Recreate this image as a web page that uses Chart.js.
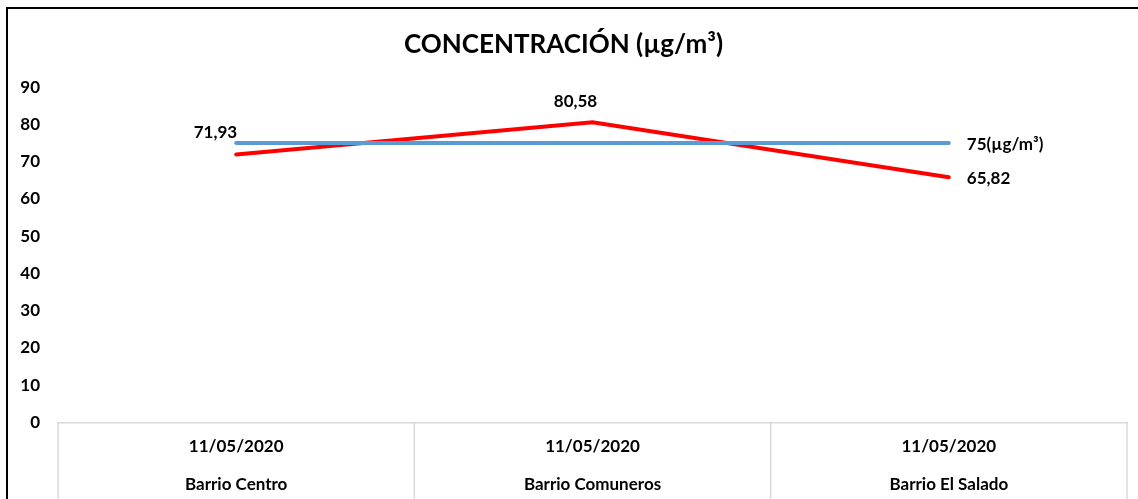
<!DOCTYPE html>
<html>
<head>
<meta charset="utf-8">
<script src="https://cdn.jsdelivr.net/npm/chart.js@4"></script>
<style>
  html, body { margin: 0; padding: 0; overflow: hidden; background: #fff; }
  #frame { position: absolute; left: 6px; top: 7px; width: 1200px; height: 600px;
           border-left: 2px solid #000; border-top: 2px solid #000; }
  #wrap { position: absolute; left: 0; top: 0; width: 1138px; height: 509px; }
</style>
</head>
<body>
<div id="frame"></div>
<div id="wrap"><canvas id="chart"></canvas></div>
<script>
const fechas = ['11/05/2020', '11/05/2020', '11/05/2020']
const barrios = ['Barrio Centro', 'Barrio Comuneros', 'Barrio El Salado']
const concentracion = [71.93, 80.58, 65.82]
const norma = [75, 75, 75]
const yTicks = [0, 10, 20, 30, 40, 50, 60, 70, 80, 90]

const fontFamily = 'Lato, "Open Sans", sans-serif'

// labels drawn next to the points, like excel data labels
const pointLabels = {
    id: 'pointLabels',
    afterDatasetsDraw(chart) {
        const c = chart.ctx
        c.save()
        c.font = 'bold 17px ' + fontFamily
        c.fillStyle = '#000'
        c.textBaseline = 'middle'

        const red = chart.getDatasetMeta(1).data
        const spots = [
            { dx: 1, dy: -22, align: 'right' },
            { dx: -17, dy: -21, align: 'center' },
            { dx: 18, dy: 1, align: 'left' }
        ]
        red.forEach((pt, i) => {
            c.textAlign = spots[i].align
            c.fillText(concentracion[i].toFixed(2).replace('.', ','), pt.x + spots[i].dx, pt.y + spots[i].dy)
        })

        const blue = chart.getDatasetMeta(0).data
        const last = blue[blue.length - 1]
        c.textAlign = 'left'
        c.fillText(norma[norma.length - 1] + '(µg/m³)', last.x + 18, last.y + 1)
        c.restore()
    }
}

// table-like separators under the x axis, taken from the category scale
const tableLines = {
    id: 'tableLines',
    afterDraw(chart) {
        const x = chart.scales.x
        const c = chart.ctx
        const n = x.ticks.length
        const edges = [x.left]
        for (let i = 0; i < n - 1; i++) {
            edges.push((x.getPixelForTick(i) + x.getPixelForTick(i + 1)) / 2)
        }
        edges.push(x.right)
        c.save()
        c.strokeStyle = '#d9d9d9'
        c.lineWidth = 1.5
        edges.forEach(px => {
            c.beginPath()
            c.moveTo(px, x.top)
            c.lineTo(px, chart.height)
            c.stroke()
        })
        c.restore()
    }
}

const ctx = document.getElementById('chart').getContext('2d')

const chart = new Chart(ctx, {
    type: 'line',
    data: {
        labels: fechas.map((f, i) => [f, barrios[i]]),
        datasets: [
            {
                label: 'Norma',
                data: norma,
                borderColor: '#5B9BD5',
                borderWidth: 4,
                borderCapStyle: 'round',
                pointRadius: 0,
                tension: 0
            },
            {
                label: 'Concentración',
                data: concentracion,
                borderColor: '#FF0000',
                borderWidth: 4,
                borderCapStyle: 'round',
                borderJoinStyle: 'miter',
                pointRadius: 0,
                tension: 0
            }
        ]
    },
    plugins: [pointLabels, tableLines],
    options: {
        responsive: true,
        maintainAspectRatio: false,
        animation: false,
        layout: {
            padding: { left: 0, right: 11, top: 0, bottom: 0 }
        },
        plugins: {
            legend: { display: false },
            tooltip: { enabled: false },
            title: {
                display: true,
                text: 'CONCENTRACIÓN (µg/m³)',
                color: '#000',
                font: { family: fontFamily, size: 26, weight: 'bold', lineHeight: 1.2 },
                padding: { top: 29, bottom: 27 }
            }
        },
        scales: {
            x: {
                offset: true,
                grid: { display: false, drawTicks: false },
                border: { color: '#d9d9d9', width: 1.5 },
                ticks: {
                    color: '#000',
                    padding: 5,
                    maxRotation: 0,
                    autoSkip: false,
                    font: { family: fontFamily, size: 17, weight: 'bold', lineHeight: 2.25 }
                }
            },
            y: {
                min: 0,
                max: 90,
                afterBuildTicks: (scale) => { scale.ticks = yTicks.map(v => ({ value: v })) },
                afterFit: (scale) => { scale.width = 58 },
                grid: { display: false, drawTicks: false },
                border: { display: false },
                ticks: {
                    color: '#000',
                    padding: 18,
                    font: { family: fontFamily, size: 17, weight: 'bold' }
                }
            }
        }
    }
})
</script>
</body>
</html>
